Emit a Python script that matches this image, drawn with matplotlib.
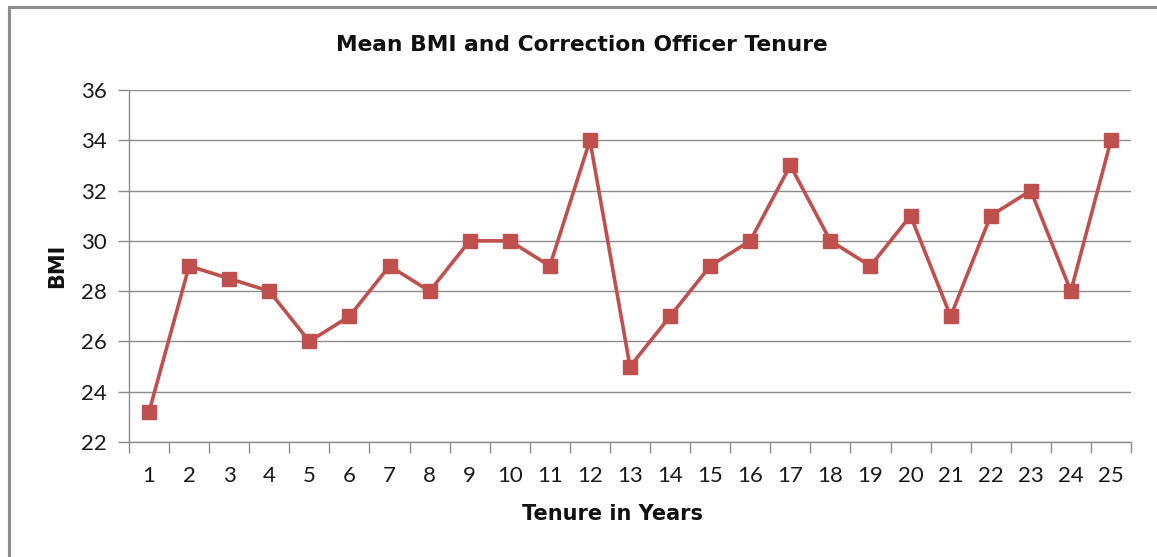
import matplotlib
matplotlib.use("Agg")
import matplotlib.pyplot as plt
from matplotlib.patches import Rectangle
import numpy as np

years = list(range(1, 26))
bmi = [23.2, 29, 28.5, 28, 26, 27, 29, 28, 30, 30, 29, 34, 25, 27, 29, 30, 33, 30, 29, 31, 27, 31, 32, 28, 34]
yticks = [22, 24, 26, 28, 30, 32, 34, 36]

plt.rcParams['font.family'] = ['Lato', 'DejaVu Sans']

W, H = 1157, 557
fig = plt.figure(figsize=(W / 100, H / 100), dpi=100)
fig.patches.append(Rectangle((9 / W, -0.1), 1.2, 1 - 7 / H + 0.1, transform=fig.transFigure,
                             fill=False, edgecolor='#8c8c8c', linewidth=2.2, zorder=0))

ax = fig.add_axes([129 / W, 1 - 442 / H, (1131 - 129) / W, (442 - 90) / H])
ax.plot(years, bmi, color='#C0504D', linewidth=2.6, marker='s', markersize=10.5,
        markerfacecolor='#C0504D', markeredgecolor='#C0504D', zorder=3)

ax.set_xlim(0.5, 25.5)
ax.set_ylim(22, 36)
ax.set_yticks(yticks)
ax.set_yticklabels([str(v) for v in yticks])
ax.set_xticks(years)
ax.set_xticklabels([str(v) for v in years])
ax.set_xticks(np.arange(0.5, 26, 1), minor=True)
ax.tick_params(axis='x', which='major', length=0, pad=17, labelsize=16, colors='#1a1a1a')
ax.tick_params(axis='x', which='minor', length=8, width=1, color='#8c8c8c')
ax.tick_params(axis='y', which='major', length=8, width=1, color='#8c8c8c', pad=8,
               labelsize=16, labelcolor='#1a1a1a')
ax.grid(axis='y', color='#8c8c8c', linewidth=1)
ax.set_axisbelow(True)
for s in ['top', 'right']:
    ax.spines[s].set_visible(False)
for s in ['left', 'bottom']:
    ax.spines[s].set_color('#8c8c8c')
    ax.spines[s].set_linewidth(1)

bold = ['DejaVu Sans']
fig.text(582 / W, 1 - 45 / H, 'Mean BMI and Correction Officer Tenure', ha='center', va='center',
         fontsize=15.7, fontweight='bold', color='#111111', family=bold)
fig.text(612 / W, 1 - 514 / H, 'Tenure in Years', ha='center', va='center',
         fontsize=15, fontweight='bold', color='#111111', family=bold)
fig.text(57 / W, 1 - 266 / H, 'BMI', ha='center', va='center', rotation=90,
         fontsize=15, fontweight='bold', color='#111111', family=bold)

fig.savefig('out.png', dpi=100, facecolor='white')
